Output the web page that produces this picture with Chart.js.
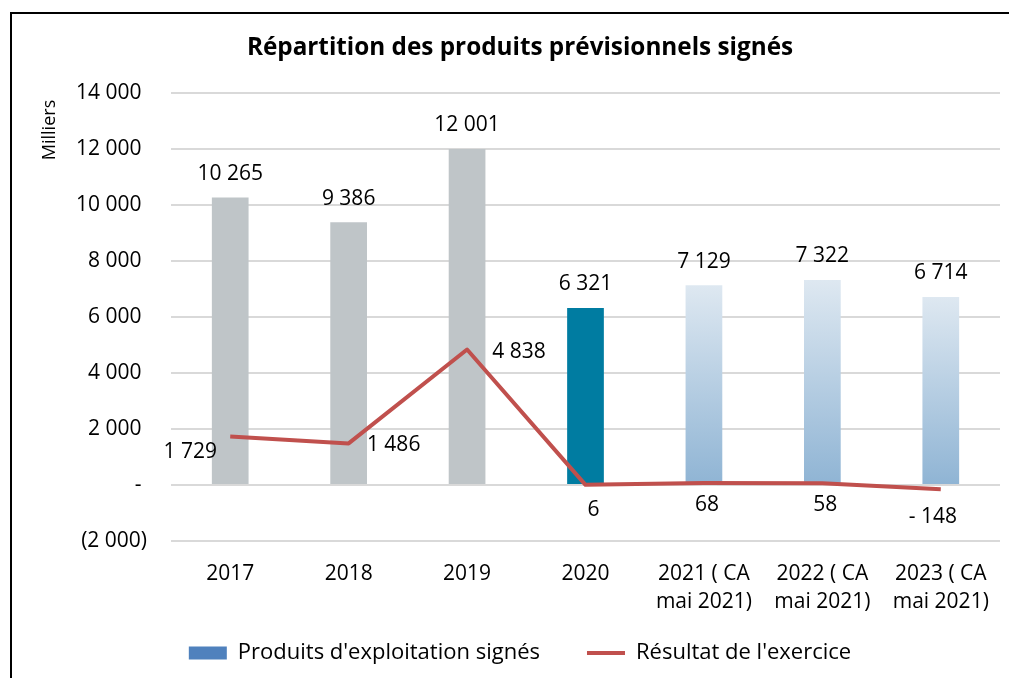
<!DOCTYPE html>
<html lang="fr">
<head>
<meta charset="utf-8">
<title>Répartition des produits prévisionnels signés</title>
<script src="https://cdn.jsdelivr.net/npm/chart.js@4.4.1/dist/chart.umd.min.js"></script>
<style>
  html, body { margin: 0; padding: 0; background: #fff; overflow: hidden; }
  /* thin black frame, only left and top edges fall inside the window */
  #frame { position: absolute; left: 10px; top: 12px; width: 1100px; height: 800px;
           border-left: 2px solid #000; border-top: 2px solid #000; }
  #wrap { position: absolute; left: 0; top: 0; width: 1009px; height: 678px; }
</style>
</head>
<body>
<div id="frame"></div>
<div id="wrap"><canvas id="chart"></canvas></div>
<script>
// ---- data (milliers d'euros) ----
const years = ['2017', '2018', '2019', '2020',
  ['2021 ( CA', 'mai 2021)'], ['2022 ( CA', 'mai 2021)'], ['2023 ( CA', 'mai 2021)']];
const produits = [10265, 9386, 12001, 6321, 7129, 7322, 6714];
const resultat = [1729, 1486, 4838, 6, 68, 58, -148];
const yMin = -2000;
const yMax = 14000;
const yStep = 2000;

// realised years in grey, current year in teal, forecasts with a gradient
const barKind = ['realise', 'realise', 'realise', 'courant', 'prevision', 'prevision', 'prevision'];
// where each result label sits relative to its point (dx, dy in px)
const resultLabelShift = [[-40, 15], [45, 2], [52, 2], [8, 25], [3, 22], [3, 22], [-8, 28]];

const FONT = '"Open Sans", Lato, sans-serif';

const sep = v => Math.abs(v).toString().replace(/\B(?=(\d{3})+(?!\d))/g, ' ');
const tickText = v => v > 0 ? sep(v) + ' ' : (v === 0 ? '- ' : '(' + sep(v) + ')');
const resultText = v => v < 0 ? '- ' + sep(v) : sep(v);

function barFill(c) {
  const kind = barKind[c.dataIndex];
  if (kind === 'realise') return '#BFC5C8';
  if (kind === 'courant') return '#007CA1';
  const chart = c.chart;
  const y = chart.scales.y;
  if (!chart.chartArea || !y) return '#B8CFE4';
  const top = y.getPixelForValue(c.raw);
  const base = y.getPixelForValue(0);
  const g = chart.ctx.createLinearGradient(0, top, 0, base);
  g.addColorStop(0, '#DEE8F1');
  g.addColorStop(1, '#8FB4D4');
  return g;
}

// value labels above bars and around line points
const valueLabels = {
  id: 'valueLabels',
  afterDatasetsDraw(chart) {
    const ctx = chart.ctx;
    ctx.save();
    ctx.font = '21px ' + FONT;
    ctx.fillStyle = '#000';
    ctx.textAlign = 'center';
    ctx.textBaseline = 'middle';
    chart.getDatasetMeta(0).data.forEach((bar, i) => {
      ctx.fillText(sep(produits[i]), bar.x, bar.y - 23.5);
    });
    chart.getDatasetMeta(1).data.forEach((pt, i) => {
      const [dx, dy] = resultLabelShift[i];
      ctx.fillText(resultText(resultat[i]), pt.x + dx, pt.y + dy);
    });
    ctx.restore();
  }
};

// unit caption, vertical, next to the top of the value axis
const unitCaption = {
  id: 'unitCaption',
  afterDraw(chart) {
    const ctx = chart.ctx;
    ctx.save();
    ctx.translate(49.5, 130);
    ctx.rotate(-Math.PI / 2);
    ctx.font = '18px ' + FONT;
    ctx.fillStyle = '#000';
    ctx.textAlign = 'center';
    ctx.textBaseline = 'middle';
    ctx.fillText('Milliers', 0, 0);
    ctx.restore();
  }
};

function draw() {
  new Chart(document.getElementById('chart'), {
    data: {
      labels: years,
      datasets: [
        {
          type: 'bar',
          label: "Produits d'exploitation signés",
          data: produits,
          backgroundColor: barFill,
          borderWidth: 0,
          categoryPercentage: 1,
          barPercentage: 0.31,
          order: 2
        },
        {
          type: 'line',
          label: "Résultat de l'exercice",
          data: resultat,
          borderColor: '#C0504D',
          borderWidth: 4,
          borderJoinStyle: 'round',
          tension: 0,
          pointRadius: 0,
          fill: false,
          order: 1
        }
      ]
    },
    options: {
      responsive: true,
      maintainAspectRatio: false,
      animation: false,
      layout: { padding: { left: 40, right: 9, top: 0, bottom: 4 } },
      plugins: {
        title: {
          display: true,
          text: 'Répartition des produits prévisionnels signés',
          color: '#000',
          font: { family: FONT, size: 24.3, weight: 'bold' },
          padding: { top: 33.5, bottom: 30.3 }
        },
        legend: {
          position: 'bottom',
          labels: {
            usePointStyle: true,
            pointStyleWidth: 38,
            boxHeight: 13,
            padding: 47,
            color: '#000',
            font: { family: FONT, size: 22 },
            generateLabels: () => [
              { text: "Produits d'exploitation signés", fillStyle: '#4F81BD', strokeStyle: '#4F81BD',
                lineWidth: 0, pointStyle: 'rect', datasetIndex: 0, hidden: false },
              { text: "Résultat de l'exercice", fillStyle: '#C0504D', strokeStyle: '#C0504D',
                lineWidth: 4, pointStyle: 'line', datasetIndex: 1, hidden: false }
            ]
          }
        },
        tooltip: { enabled: false }
      },
      scales: {
        x: {
          offset: true,
          grid: { display: false, drawTicks: false },
          border: { display: false },
          // mirrored with a negative padding so the two-line labels are not clipped by the axis box
          ticks: { mirror: true, padding: -47, color: '#000',
                   font: { family: FONT, size: 21, lineHeight: 1.33 }, maxRotation: 0, autoSkip: false },
          afterFit: s => { s.height = 54; }
        },
        y: {
          min: yMin,
          max: yMax,
          grid: { color: '#D9D9D9', lineWidth: 2, drawTicks: false },
          border: { display: false },
          ticks: { stepSize: yStep, padding: 24, color: '#000', font: { family: FONT, size: 21 }, callback: v => tickText(v) },
          afterFit: s => { s.width = 131; }
        }
      }
    },
    plugins: [valueLabels, unitCaption]
  });
}

document.fonts.load('21px "Open Sans"').then(draw, draw);
</script>
</body>
</html>
